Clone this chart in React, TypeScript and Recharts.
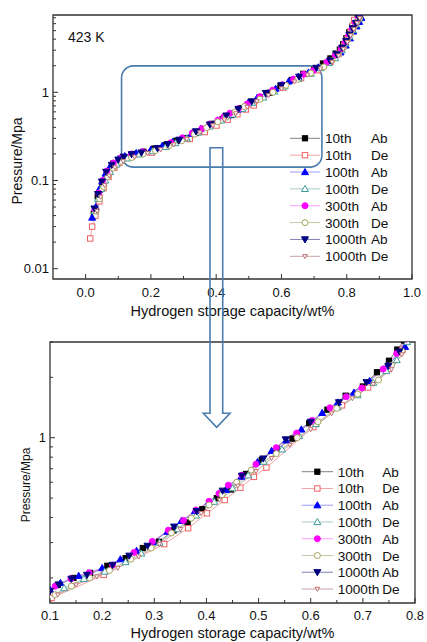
import React from 'react';
import { LineChart, Line, XAxis, YAxis, ReferenceArea, Legend } from 'recharts';

type Pt = { x: number; y: number };

// ---------- data (wt%, MPa) ----------
const ab10: Pt[] = [
  { x: 0.025, y: 0.042 }, { x: 0.037, y: 0.066 }, { x: 0.05, y: 0.095 }, { x: 0.065, y: 0.125 },
  { x: 0.085, y: 0.156 }, { x: 0.115, y: 0.185 }, { x: 0.145, y: 0.2 }, { x: 0.177, y: 0.212 },
  { x: 0.21, y: 0.23 }, { x: 0.245, y: 0.251 }, { x: 0.278, y: 0.282 }, { x: 0.309, y: 0.303 },
  { x: 0.337, y: 0.345 }, { x: 0.364, y: 0.378 }, { x: 0.392, y: 0.44 }, { x: 0.42, y: 0.5 },
  { x: 0.447, y: 0.552 }, { x: 0.476, y: 0.66 }, { x: 0.506, y: 0.775 }, { x: 0.535, y: 0.88 },
  { x: 0.565, y: 0.99 }, { x: 0.597, y: 1.18 }, { x: 0.632, y: 1.38 }, { x: 0.667, y: 1.62 },
  { x: 0.7, y: 1.8 }, { x: 0.727, y: 2.12 }, { x: 0.75, y: 2.42 }, { x: 0.766, y: 2.75 },
  { x: 0.779, y: 3.05 }, { x: 0.789, y: 3.5 }, { x: 0.799, y: 4.1 }, { x: 0.808, y: 4.8 },
  { x: 0.817, y: 5.5 }, { x: 0.826, y: 6.3 }, { x: 0.834, y: 7.0 },
];
const de10: Pt[] = [
  { x: 0.014, y: 0.022 }, { x: 0.02, y: 0.03 }, { x: 0.03, y: 0.04 }, { x: 0.042, y: 0.058 },
  { x: 0.055, y: 0.082 }, { x: 0.07, y: 0.11 }, { x: 0.088, y: 0.14 }, { x: 0.103, y: 0.159 },
  { x: 0.203, y: 0.207 }, { x: 0.319, y: 0.295 }, { x: 0.365, y: 0.354 }, { x: 0.401, y: 0.42 },
  { x: 0.435, y: 0.489 }, { x: 0.465, y: 0.563 }, { x: 0.491, y: 0.638 }, { x: 0.515, y: 0.71 },
  { x: 0.605, y: 1.13 }, { x: 0.66, y: 1.45 }, { x: 0.71, y: 1.78 }, { x: 0.75, y: 2.2 },
  { x: 0.776, y: 2.75 }, { x: 0.792, y: 3.4 }, { x: 0.803, y: 4.1 }, { x: 0.812, y: 4.9 },
  { x: 0.818, y: 5.7 }, { x: 0.823, y: 6.6 },
];
const ab100: Pt[] = [
  { x: 0.02, y: 0.038 }, { x: 0.031, y: 0.05 }, { x: 0.041, y: 0.079 }, { x: 0.051, y: 0.098 },
  { x: 0.061, y: 0.12 }, { x: 0.075, y: 0.145 }, { x: 0.1, y: 0.175 }, { x: 0.12, y: 0.189 },
  { x: 0.155, y: 0.205 }, { x: 0.2, y: 0.224 }, { x: 0.235, y: 0.248 }, { x: 0.266, y: 0.273 },
  { x: 0.297, y: 0.302 }, { x: 0.325, y: 0.34 }, { x: 0.352, y: 0.385 }, { x: 0.378, y: 0.432 },
  { x: 0.405, y: 0.48 }, { x: 0.437, y: 0.55 }, { x: 0.467, y: 0.64 }, { x: 0.498, y: 0.757 },
  { x: 0.525, y: 0.86 }, { x: 0.553, y: 0.97 }, { x: 0.582, y: 1.1 }, { x: 0.622, y: 1.33 },
  { x: 0.652, y: 1.5 }, { x: 0.683, y: 1.68 }, { x: 0.713, y: 1.92 }, { x: 0.747, y: 2.28 },
  { x: 0.781, y: 2.84 }, { x: 0.797, y: 3.4 }, { x: 0.81, y: 4.1 }, { x: 0.82, y: 4.9 },
  { x: 0.83, y: 5.6 }, { x: 0.838, y: 6.3 }, { x: 0.845, y: 7.0 },
];
const de100: Pt[] = [
  { x: 0.028, y: 0.045 }, { x: 0.038, y: 0.062 }, { x: 0.048, y: 0.08 }, { x: 0.06, y: 0.1 },
  { x: 0.075, y: 0.125 }, { x: 0.095, y: 0.152 }, { x: 0.127, y: 0.178 }, { x: 0.165, y: 0.198 },
  { x: 0.205, y: 0.215 }, { x: 0.245, y: 0.24 }, { x: 0.275, y: 0.265 }, { x: 0.31, y: 0.3 },
  { x: 0.345, y: 0.35 }, { x: 0.38, y: 0.41 }, { x: 0.415, y: 0.48 }, { x: 0.45, y: 0.56 },
  { x: 0.48, y: 0.65 }, { x: 0.51, y: 0.76 }, { x: 0.545, y: 0.875 }, { x: 0.578, y: 1.02 },
  { x: 0.61, y: 1.17 }, { x: 0.652, y: 1.42 }, { x: 0.69, y: 1.63 }, { x: 0.72, y: 1.88 },
  { x: 0.745, y: 2.15 }, { x: 0.765, y: 2.44 }, { x: 0.785, y: 3.0 }, { x: 0.797, y: 3.6 },
  { x: 0.808, y: 4.3 }, { x: 0.818, y: 5.1 }, { x: 0.828, y: 5.9 }, { x: 0.838, y: 6.8 },
];
const ab300: Pt[] = [
  { x: 0.028, y: 0.047 }, { x: 0.04, y: 0.072 }, { x: 0.052, y: 0.1 }, { x: 0.065, y: 0.128 },
  { x: 0.085, y: 0.158 }, { x: 0.11, y: 0.182 }, { x: 0.14, y: 0.198 }, { x: 0.175, y: 0.212 },
  { x: 0.22, y: 0.232 }, { x: 0.261, y: 0.268 }, { x: 0.296, y: 0.304 }, { x: 0.327, y: 0.346 },
  { x: 0.356, y: 0.387 }, { x: 0.38, y: 0.436 }, { x: 0.405, y: 0.482 }, { x: 0.424, y: 0.527 },
  { x: 0.442, y: 0.58 }, { x: 0.468, y: 0.65 }, { x: 0.495, y: 0.738 }, { x: 0.534, y: 0.892 },
  { x: 0.573, y: 1.055 }, { x: 0.603, y: 1.22 }, { x: 0.637, y: 1.41 }, { x: 0.668, y: 1.6 },
  { x: 0.698, y: 1.77 }, { x: 0.739, y: 2.2 }, { x: 0.765, y: 2.63 }, { x: 0.783, y: 3.1 },
  { x: 0.796, y: 3.7 }, { x: 0.806, y: 4.4 }, { x: 0.816, y: 5.2 }, { x: 0.826, y: 6.0 },
  { x: 0.835, y: 6.8 },
];
const de300: Pt[] = [
  { x: 0.032, y: 0.045 }, { x: 0.043, y: 0.062 }, { x: 0.055, y: 0.085 }, { x: 0.068, y: 0.11 },
  { x: 0.085, y: 0.138 }, { x: 0.11, y: 0.165 }, { x: 0.141, y: 0.182 }, { x: 0.176, y: 0.2 },
  { x: 0.214, y: 0.218 }, { x: 0.255, y: 0.248 }, { x: 0.294, y: 0.282 }, { x: 0.333, y: 0.335 },
  { x: 0.371, y: 0.397 }, { x: 0.405, y: 0.462 }, { x: 0.43, y: 0.52 }, { x: 0.458, y: 0.6 },
  { x: 0.486, y: 0.69 }, { x: 0.534, y: 0.833 }, { x: 0.574, y: 1.0 }, { x: 0.614, y: 1.2 },
  { x: 0.65, y: 1.4 }, { x: 0.69, y: 1.65 }, { x: 0.73, y: 1.94 }, { x: 0.755, y: 2.3 },
  { x: 0.775, y: 2.7 }, { x: 0.79, y: 3.2 }, { x: 0.802, y: 3.9 }, { x: 0.812, y: 4.6 },
  { x: 0.822, y: 5.4 }, { x: 0.832, y: 6.3 }, { x: 0.84, y: 7.0 },
];
const ab1000: Pt[] = [
  { x: 0.027, y: 0.048 }, { x: 0.038, y: 0.07 }, { x: 0.05, y: 0.097 }, { x: 0.063, y: 0.125 },
  { x: 0.08, y: 0.15 }, { x: 0.1, y: 0.172 }, { x: 0.117, y: 0.185 }, { x: 0.141, y: 0.198 },
  { x: 0.171, y: 0.207 }, { x: 0.22, y: 0.232 }, { x: 0.252, y: 0.258 }, { x: 0.287, y: 0.289 },
  { x: 0.338, y: 0.36 }, { x: 0.381, y: 0.43 }, { x: 0.431, y: 0.544 }, { x: 0.468, y: 0.646 },
  { x: 0.509, y: 0.787 }, { x: 0.552, y: 0.98 }, { x: 0.6, y: 1.2 }, { x: 0.654, y: 1.5 },
  { x: 0.707, y: 1.89 }, { x: 0.749, y: 2.28 }, { x: 0.77, y: 2.69 }, { x: 0.786, y: 3.2 },
  { x: 0.798, y: 3.8 }, { x: 0.808, y: 4.5 }, { x: 0.818, y: 5.3 }, { x: 0.828, y: 6.1 },
  { x: 0.838, y: 6.9 },
];
const de1000: Pt[] = [
  { x: 0.035, y: 0.045 }, { x: 0.046, y: 0.065 }, { x: 0.058, y: 0.088 }, { x: 0.072, y: 0.113 },
  { x: 0.09, y: 0.14 }, { x: 0.115, y: 0.165 }, { x: 0.15, y: 0.185 }, { x: 0.19, y: 0.203 },
  { x: 0.23, y: 0.224 }, { x: 0.27, y: 0.255 }, { x: 0.31, y: 0.295 }, { x: 0.35, y: 0.35 },
  { x: 0.39, y: 0.42 }, { x: 0.425, y: 0.49 }, { x: 0.46, y: 0.575 }, { x: 0.495, y: 0.68 },
  { x: 0.525, y: 0.79 }, { x: 0.56, y: 0.92 }, { x: 0.6, y: 1.1 }, { x: 0.64, y: 1.32 },
  { x: 0.68, y: 1.57 }, { x: 0.72, y: 1.85 }, { x: 0.755, y: 2.2 }, { x: 0.775, y: 2.6 },
  { x: 0.79, y: 3.1 }, { x: 0.802, y: 3.7 }, { x: 0.812, y: 4.4 }, { x: 0.822, y: 5.2 },
  { x: 0.832, y: 6.1 }, { x: 0.84, y: 6.9 },
];

// ---------- labels & ticks ----------
const cycleLabels = ['10th', '10th', '100th', '100th', '300th', '300th', '1000th', '1000th'];
const kindLabels = ['Ab', 'De', 'Ab', 'De', 'Ab', 'De', 'Ab', 'De'];
const xTitle = 'Hydrogen storage capacity/wt%';
const yTitle = 'Pressure/Mpa';
const tempLabel = '423 K';

const topXTicks = [0, 0.1, 0.2, 0.3, 0.4, 0.5, 0.6, 0.7, 0.8, 0.9, 1.0];
const topXMajor = [0, 0.2, 0.4, 0.6, 0.8, 1.0];
const topYTicks = [
  0.01, 0.02, 0.03, 0.04, 0.05, 0.06, 0.07, 0.08, 0.09,
  0.1, 0.2, 0.3, 0.4, 0.5, 0.6, 0.7, 0.8, 0.9,
  1, 2, 3, 4, 5, 6, 7,
];
const topYMajor = [0.01, 0.1, 1];
const botXTicks = [0.1, 0.15, 0.2, 0.25, 0.3, 0.35, 0.4, 0.45, 0.5, 0.55, 0.6, 0.65, 0.7, 0.75, 0.8];
const botXMajor = [0.1, 0.2, 0.3, 0.4, 0.5, 0.6, 0.7, 0.8];
const botYTicks = [0.2, 0.3, 0.4, 0.5, 0.6, 0.7, 0.8, 0.9, 1, 2, 3];
const botYMajor = [1];

// zoom window (rounded box) in data units
const zoomBoxX = [0.11, 0.724];
const zoomBoxY = [0.1416, 1.99];

// ---------- styles ----------
const FONT = '"Liberation Sans", Arial, Helvetica, sans-serif';
const FRAME = '#333333';
const TXT = '#111111';
const ANNOT = '#4a7cad';

type Shape = 'square' | 'circle' | 'up' | 'down';
const seriesData = [ab10, de10, ab100, de100, ab300, de300, ab1000, de1000];
const seriesStyle: { shape: Shape; color: string; line: string; filled: boolean; size: number }[] = [
  { shape: 'square', color: '#000000', line: '#808080', filled: true, size: 5.2 },
  { shape: 'square', color: '#f06060', line: '#f4a4a4', filled: false, size: 5.4 },
  { shape: 'up', color: '#0000ff', line: '#9c9cff', filled: true, size: 7 },
  { shape: 'up', color: '#3f9a9a', line: '#a6caca', filled: false, size: 7 },
  { shape: 'circle', color: '#ff00ff', line: '#ff9cff', filled: true, size: 6 },
  { shape: 'circle', color: '#a4a45c', line: '#c6c6a2', filled: false, size: 6 },
  { shape: 'down', color: '#000080', line: '#8282b2', filled: true, size: 7 },
  { shape: 'down', color: '#c07070', line: '#c9a2a2', filled: false, size: 4.6 },
];

function marker(shape: Shape, cx: number, cy: number, color: string, filled: boolean, s: number, key?: string) {
  const fill = filled ? color : '#ffffff';
  const common = { fill, stroke: color, strokeWidth: 1 };
  if (shape === 'square') {
    return <rect key={key} x={cx - s / 2} y={cy - s / 2} width={s} height={s} {...common} />;
  }
  if (shape === 'circle') {
    return <circle key={key} cx={cx} cy={cy} r={s / 2} {...common} />;
  }
  const h = s * 0.5;
  if (shape === 'up') {
    const pts = `${cx},${cy - h} ${cx - h},${cy + h * 0.75} ${cx + h},${cy + h * 0.75}`;
    return <polygon key={key} points={pts} {...common} />;
  }
  const pts = `${cx},${cy + h} ${cx - h},${cy - h * 0.75} ${cx + h},${cy - h * 0.75}`;
  return <polygon key={key} points={pts} {...common} />;
}

const near = (arr: number[], v: number) => arr.some((m) => Math.abs(m - v) < 1e-9);

function makeXTick(majors: number[], fmt: (v: number) => string, labelDy: number) {
  return (p: any) => {
    const v = p.payload?.value;
    const maj = near(majors, v);
    return (
      <g key={`xt-${v}`}>
        <line x1={p.x} x2={p.x} y1={p.y} y2={p.y - (maj ? 5 : 3)} stroke={FRAME} strokeWidth={1} />
        {maj && (
          <text x={p.x} y={p.y + labelDy} textAnchor="middle" fontSize={13} fontFamily={FONT} fill={TXT}>
            {fmt(v)}
          </text>
        )}
      </g>
    );
  };
}

function makeYTick(majors: number[]) {
  return (p: any) => {
    const v = p.payload?.value;
    const maj = near(majors, v);
    return (
      <g key={`yt-${v}`}>
        <line x1={p.x} x2={p.x + (maj ? 5 : 3)} y1={p.y} y2={p.y} stroke={FRAME} strokeWidth={1} />
        {maj && (
          <text x={p.x - 4} y={p.y + 4.6} textAnchor="end" fontSize={13} fontFamily={FONT} fill={TXT}>
            {String(v)}
          </text>
        )}
      </g>
    );
  };
}

function makeLegend(lineX0: number, lineX1: number, textX: number, kindX: number, rowY0: number, rowGap: number) {
  return () => (
    <svg width={140} height={140} style={{ overflow: 'visible' }}>
      {seriesStyle.map((st, i) => {
        const cy = rowY0 + i * rowGap;
        const mx = (lineX0 + lineX1) / 2;
        return (
          <g key={`lg-${i}`}>
            <line x1={lineX0} x2={lineX1} y1={cy} y2={cy} stroke={st.line} strokeWidth={1} />
            {marker(st.shape, mx, cy, st.color, st.filled, st.size)}
            <text x={textX} y={cy + 5} fontSize={13.6} fontFamily={FONT} fill={TXT}>
              {cycleLabels[i]}
            </text>
            <text x={kindX} y={cy + 5} fontSize={13.6} fontFamily={FONT} fill={TXT}>
              {kindLabels[i]}
            </text>
          </g>
        );
      })}
    </svg>
  );
}

function renderSeries(prefix: string) {
  return seriesData.map((d, i) => {
    const st = seriesStyle[i];
    return (
      <Line
        key={`${prefix}-${i}`}
        data={d}
        dataKey="y"
        type="linear"
        stroke={st.line}
        strokeWidth={1}
        isAnimationActive={false}
        legendType="none"
        dot={(p: any) => {
          const k = `${prefix}-${i}-${p.index}`;
          if (p.cx == null || p.cy == null || isNaN(p.cx) || isNaN(p.cy)) return <g key={k} />;
          return marker(st.shape, p.cx, p.cy, st.color, st.filled, st.size, k);
        }}
        activeDot={false}
      />
    );
  });
}

const TOP_X: [number, number] = [-0.1, 1.0];
const TOP_Y: [number, number] = [0.00764, 7.52];
const BOT_X: [number, number] = [0.1, 0.8];
const BOT_Y: [number, number] = [0.15, 3.0];

export default function App() {
  return (
    <div style={{ position: 'absolute', left: 0, top: 0, width: 427, height: 642, background: '#ffffff', overflow: 'hidden' }}>
      {/* top panel */}
      <div style={{ position: 'absolute', left: 0, top: 0 }}>
        <LineChart width={427} height={330} margin={{ top: 15, right: 15, bottom: 0, left: 0 }}>
          <XAxis
            type="number"
            dataKey="x"
            domain={TOP_X}
            allowDataOverflow
            ticks={topXTicks}
            interval={0}
            tickSize={0}
            tickMargin={0}
            tickLine={false}
            axisLine={false}
            height={51}
            tick={makeXTick(topXMajor, (v) => v.toFixed(1), 18)}
            label={{
              content: (lp: any) => {
                const vb = lp.viewBox || {};
                return (
                  <text x={vb.x + vb.width / 2} y={vb.y + 37} textAnchor="middle" fontSize={14.5} fontFamily={FONT} fill={TXT}>
                    {xTitle}
                  </text>
                );
              },
            }}
          />
          <YAxis
            type="number"
            scale="log"
            domain={TOP_Y}
            allowDataOverflow
            ticks={topYTicks}
            interval={0}
            tickSize={0}
            tickMargin={0}
            tickLine={false}
            axisLine={false}
            width={53}
            tick={makeYTick(topYMajor)}
            label={{
              content: (lp: any) => {
                const vb = lp.viewBox || {};
                const cy = vb.y + vb.height / 2 + 14;
                return (
                  <text transform={`translate(21.5,${cy}) rotate(-90)`} textAnchor="middle" fontSize={14} fontFamily={FONT} fill={TXT}>
                    {yTitle}
                  </text>
                );
              },
            }}
          />
          {renderSeries('t')}
          <ReferenceArea
            x1={TOP_X[0]}
            x2={TOP_X[1]}
            y1={TOP_Y[0]}
            y2={TOP_Y[1]}
            ifOverflow="visible"
            fill="none"
            fillOpacity={0}
            stroke={FRAME}
            strokeWidth={1.3}
          />
          <ReferenceArea
            x1={zoomBoxX[0]}
            x2={zoomBoxX[1]}
            y1={zoomBoxY[0]}
            y2={zoomBoxY[1]}
            ifOverflow="visible"
            shape={(sp: any) => (
              <rect x={sp.x} y={sp.y} width={sp.width} height={sp.height} rx={12} ry={12} fill="none" stroke={ANNOT} strokeWidth={1.6} />
            )}
          />
          <Legend
            layout="vertical"
            align="center"
            verticalAlign="middle"
            content={makeLegend(5, 35, 40, 86, 10.3, 16.86)}
            wrapperStyle={{ left: 285, top: 128, width: 140, height: 140 }}
          />
        </LineChart>
      </div>

      {/* bottom panel */}
      <div style={{ position: 'absolute', left: 0, top: 330 }}>
        <LineChart width={427} height={312} margin={{ top: 12, right: 12, bottom: 0, left: 0 }}>
          <XAxis
            type="number"
            dataKey="x"
            domain={BOT_X}
            allowDataOverflow
            ticks={botXTicks}
            interval={0}
            tickSize={0}
            tickMargin={0}
            tickLine={false}
            axisLine={false}
            height={39}
            tick={makeXTick(botXMajor, (v) => v.toFixed(1), 16.5)}
            label={{
              content: (lp: any) => {
                const vb = lp.viewBox || {};
                return (
                  <text x={vb.x + vb.width / 2} y={vb.y + 35.2} textAnchor="middle" fontSize={14.5} fontFamily={FONT} fill={TXT}>
                    {xTitle}
                  </text>
                );
              },
            }}
          />
          <YAxis
            type="number"
            scale="log"
            domain={BOT_Y}
            allowDataOverflow
            ticks={botYTicks}
            interval={0}
            tickSize={0}
            tickMargin={0}
            tickLine={false}
            axisLine={false}
            width={50}
            tick={makeYTick(botYMajor)}
            label={{
              content: (lp: any) => {
                const vb = lp.viewBox || {};
                const cy = vb.y + vb.height / 2 + 12.5;
                return (
                  <text transform={`translate(29.5,${cy}) rotate(-90)`} textAnchor="middle" fontSize={12} fontFamily={FONT} fill={TXT}>
                    {yTitle}
                  </text>
                );
              },
            }}
          />
          {renderSeries('b')}
          <ReferenceArea
            x1={BOT_X[0]}
            x2={BOT_X[1]}
            y1={BOT_Y[0]}
            y2={BOT_Y[1]}
            ifOverflow="visible"
            fill="none"
            fillOpacity={0}
            stroke={FRAME}
            strokeWidth={1.3}
          />
          <Legend
            layout="vertical"
            align="center"
            verticalAlign="middle"
            content={makeLegend(4.7, 36, 40.7, 85.3, 9.7, 16.76)}
            wrapperStyle={{ left: 297, top: 132, width: 140, height: 140 }}
          />
        </LineChart>
      </div>

      {/* annotations: temperature text and hollow arrow linking the panels */}
      <svg width={427} height={642} style={{ position: 'absolute', left: 0, top: 0, pointerEvents: 'none' }}>
        <text x={68} y={42.3} fontSize={14} fontFamily={FONT} fill={TXT}>
          {tempLabel}
        </text>
        <path
          d="M210,147.7 L222.7,147.7 L222.7,413.3 L230,413.3 L216.7,427.3 L203.3,413.3 L210,413.3 Z"
          fill="none"
          stroke={ANNOT}
          strokeWidth={1.6}
          strokeLinejoin="miter"
        />
      </svg>
    </div>
  );
}
